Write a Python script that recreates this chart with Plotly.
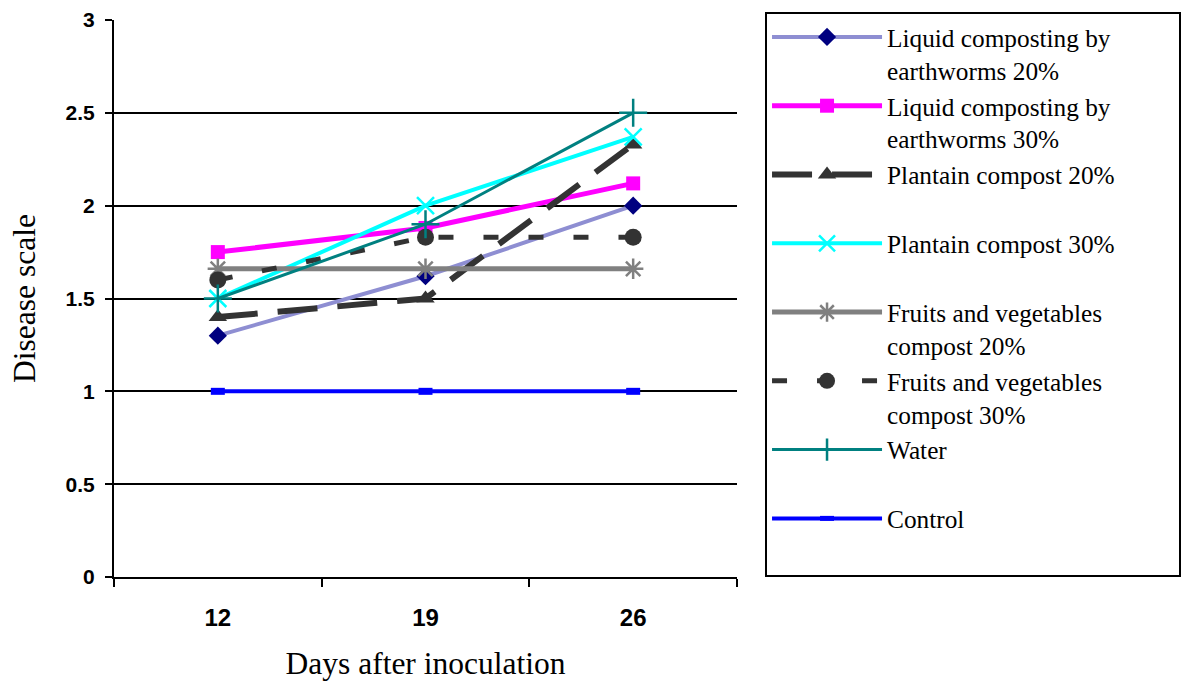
import plotly.graph_objects as go

days = ["12", "19", "26"]
pad = "\u00a0" * 10
names = [
    "Liquid composting by" + pad + "<br>earthworms 20%",
    "Liquid composting by<br>earthworms 30%",
    "Plantain compost 20%<br>\u00a0",
    "Plantain compost 30%<br>\u00a0",
    "Fruits and vegetables<br>compost 20%",
    "Fruits and vegetables<br>compost 30%",
    "Water<br>\u00a0",
    "Control<br>\u00a0",
]
lc20 = [1.30, 1.62, 2.00]
lc30 = [1.75, 1.88, 2.12]
pc20 = [1.40, 1.50, 2.33]
pc30 = [1.50, 2.00, 2.37]
fv20 = [1.66, 1.66, 1.66]
fv30 = [1.60, 1.83, 1.83]
water = [1.50, 1.90, 2.50]
control = [1.00, 1.00, 1.00]
series = [lc20, lc30, pc20, pc30, fv20, fv30, water, control]

styles = [
    dict(line=dict(color="#8E8ED2", width=4), marker=dict(symbol="diamond", size=14, color="#000080")),
    dict(line=dict(color="#FF00FF", width=5), marker=dict(symbol="square", size=14, color="#FF00FF")),
    dict(line=dict(color="#333333", width=6, dash="40px,20px"), marker=dict(symbol="triangle-up", size=16, color="#333333")),
    dict(line=dict(color="#00FFFF", width=4), marker=dict(symbol="x-thin", size=17, color="#00FFFF", line=dict(color="#00FFFF", width=2.5))),
    dict(line=dict(color="#808080", width=5), marker=dict(symbol="asterisk", size=17, color="#808080", line=dict(color="#808080", width=2.5))),
    dict(line=dict(color="#333333", width=5, dash="15px,30px"), marker=dict(symbol="circle", size=17, color="#333333")),
    dict(line=dict(color="#008080", width=3), marker=dict(symbol="cross-thin", size=20, color="#008080", line=dict(color="#008080", width=2.5))),
    dict(line=dict(color="#0000FF", width=4), marker=dict(symbol="line-ew", size=10, color="#0000FF", line=dict(color="#0000FF", width=7))),
]

fig = go.Figure()
for name, vals, st in zip(names, series, styles):
    fig.add_trace(go.Scatter(x=days, y=vals, name=name, mode="lines+markers",
                             line=st["line"], marker=st["marker"]))

serif = "Liberation Serif, Times New Roman, serif"
fig.update_layout(
    width=1196, height=681,
    font=dict(family=serif, color="black"),
    margin=dict(l=114, r=459, t=20, b=104, autoexpand=False),
    plot_bgcolor="white", paper_bgcolor="white",
    showlegend=True,
    legend=dict(
        x=1.045, y=1.0144, xanchor="left", yanchor="top",
        bordercolor="black", borderwidth=2, bgcolor="white",
        font=dict(family=serif, size=25.3, color="black"),
        valign="top", itemwidth=110, tracegroupgap=0, maxheight=1.0,
    ),
    xaxis=dict(
        type="category", range=[-0.5, 2.5], tickson="boundaries",
        ticks="outside", ticklen=8, tickwidth=2, tickcolor="black",
        showline=True, linecolor="black", linewidth=2, showgrid=False,
        tickfont=dict(family="Liberation Sans", size=24, color="black", weight="bold"),
        ticklabelstandoff=18, automargin=False,
        title=dict(text="Days after inoculation", standoff=26,
                   font=dict(family=serif, size=31.5, color="black")),
    ),
    yaxis=dict(
        range=[0, 3], dtick=0.5,
        ticks="outside", ticklen=7, tickwidth=2, tickcolor="black",
        showline=True, linecolor="black", linewidth=2,
        showgrid=True, gridcolor="black", gridwidth=2, zeroline=False,
        tickfont=dict(family="Liberation Sans", size=21, color="black", weight="bold"),
        ticklabelstandoff=6, automargin=False,
        title=dict(text="Disease scale", standoff=21,
                   font=dict(family=serif, size=31.5, color="black")),
    ),
)

fig.write_html("out.html")
